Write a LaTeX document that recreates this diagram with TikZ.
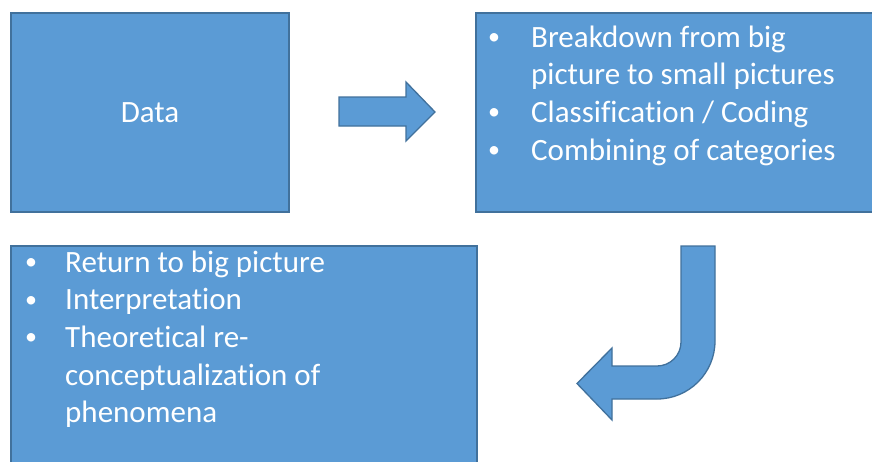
\documentclass[tikz,border=0pt]{standalone}
\usepackage{fontspec}
\setmainfont{Carlito}[Ligatures=CommonOff]
\definecolor{boxfill}{HTML}{5B9BD5}
\definecolor{boxline}{HTML}{41719C}
\tikzset{
  panel/.style={draw=boxline, fill=boxfill, line width=1.3pt, inner sep=0pt,
                text=white, font=\fontsize{31}{37.7}\selectfont},
  blockarrow/.style={draw=boxline, fill=boxfill, line width=1.3pt, line join=miter},
  listtext/.style={text=white, inner sep=0pt, anchor=base west,
                   font=\fontsize{31}{37.7}\selectfont}
}
% bullet item: small bullet in a box of the given width, then the text
\newcommand{\bulitem}[2]{\makebox[#1][l]{\hspace{2pt}\raisebox{2.5pt}{\fontsize{24}{24}\selectfont •}}#2}

\begin{document}
\begin{tikzpicture}[x=1pt, y=-1pt]
  \clip (0,0) rectangle (872,461);
  \fill[white] (0,0) rectangle (872,461);

  % three panels
  \node[panel, minimum width=278pt, minimum height=199pt] (data) at (150,112.5) {Data};
  \node[panel, minimum width=424pt, minimum height=199pt] (analyse) at (688,112.5) {};
  \node[panel, minimum width=466pt, minimum height=234pt] (synth) at (244,363) {};

  % bullet lists
  \node[listtext] (analysetext) at (486,47) {\parbox[t]{380pt}{\raggedright
    \bulitem{45pt}{Breakdown from big}\\
    \hspace*{45pt}picture to small pictures\\
    \bulitem{45pt}{Classification / Coding}\\
    \bulitem{45pt}{Combining of categories}}};
  \node[listtext] (synthtext) at (23,272) {\parbox[t]{440pt}{\raggedright
    \bulitem{42pt}{Return to big picture}\\
    \bulitem{42pt}{Interpretation}\\
    \bulitem{42pt}{Theoretical re-}\\
    \hspace*{42pt}conceptualization of\\
    \hspace*{42pt}phenomena}};

  % straight block arrow between the upper panels
  \draw[blockarrow] (339,97) -- (406,97) -- (406,82) -- (435,112)
    -- (406,141) -- (406,126) -- (339,126) -- cycle;

  % bent block arrow turning back to the lower panel
  \draw[blockarrow] (681,246) -- (715,246) -- (715,341)
    arc[start angle=0, end angle=90, radius=58]
    -- (612,399) -- (612,420) -- (577,383.5) -- (612,348) -- (612,366)
    -- (657,366) arc[start angle=90, end angle=0, radius=24]
    -- cycle;
\end{tikzpicture}
\end{document}
